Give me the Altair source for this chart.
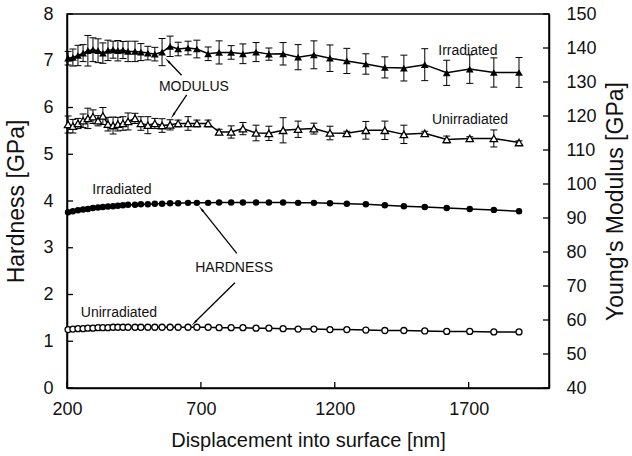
import math
import altair as alt
import pandas as pd

# ---------------- data ----------------
disp = [204, 222, 241, 260, 278, 297, 316, 334, 353, 372, 390, 409, 428, 454, 476,
        502, 528, 555, 585, 615, 652, 685, 727, 768, 813, 857, 906, 954, 1007, 1063,
        1122, 1182, 1245, 1316, 1387, 1458, 1536, 1618, 1704, 1794, 1888]

hard_irr = [3.76, 3.78, 3.80, 3.82, 3.83, 3.85, 3.86, 3.87, 3.88, 3.89, 3.90, 3.91,
            3.92, 3.92, 3.93, 3.93, 3.94, 3.94, 3.95, 3.95, 3.96, 3.96, 3.96, 3.97,
            3.97, 3.97, 3.97, 3.97, 3.97, 3.96, 3.96, 3.95, 3.94, 3.93, 3.91, 3.89,
            3.87, 3.85, 3.83, 3.81, 3.78]

hard_unirr = [1.25, 1.26, 1.27, 1.27, 1.28, 1.28, 1.29, 1.29, 1.29, 1.30, 1.30, 1.30,
              1.30, 1.30, 1.30, 1.30, 1.30, 1.30, 1.30, 1.30, 1.30, 1.30, 1.30, 1.29,
              1.29, 1.29, 1.28, 1.28, 1.27, 1.26, 1.26, 1.25, 1.25, 1.24, 1.23, 1.23,
              1.22, 1.21, 1.21, 1.20, 1.20]

mod_irr = [137.0, 137.2, 137.8, 138.5, 139.2, 139.5, 139.2, 138.5, 139.3, 139.5, 139.2,
           139.4, 139.0, 139.0, 138.8, 138.5, 138.2, 138.8, 140.5, 139.7, 140.0, 139.7,
           138.3, 138.7, 138.7, 138.3, 138.8, 138.2, 138.3, 137.3, 138.0, 137.0, 136.2,
           135.3, 134.3, 134.1, 135.1, 132.7, 133.8, 132.8, 132.8]
mod_irr_err = [2.0, 2.5, 3.0, 2.5, 4.5, 3.5, 3.5, 3.0, 3.0, 2.5, 3.0, 2.5, 3.0, 3.0,
               2.5, 2.0, 2.0, 4.0, 3.0, 2.0, 2.0, 2.6, 2.0, 3.4, 2.0, 2.9, 2.8, 1.8,
               3.3, 3.7, 4.1, 3.9, 3.7, 3.0, 3.1, 3.8, 4.7, 3.7, 4.2, 4.3, 4.4]

mod_unirr = [117.5, 117.0, 117.8, 118.6, 119.3, 119.8, 118.6, 120.0, 117.6, 117.2, 117.6,
             117.8, 118.4, 119.3, 117.8, 117.3, 117.8, 117.2, 117.4, 117.8, 117.8, 117.8,
             117.8, 115.3, 115.3, 116.3, 115.0, 114.9, 115.8, 116.1, 116.3, 115.0, 114.9,
             115.8, 115.8, 114.6, 114.9, 113.1, 113.4, 113.4, 112.2]
mod_unirr_err = [2.5, 2.0, 1.5, 2.0, 3.0, 2.0, 1.5, 2.5, 2.0, 2.5, 2.0, 2.0, 2.5, 1.5,
                 2.0, 2.5, 1.5, 2.0, 1.5, 1.0, 2.0, 1.0, 1.0, 0.8, 1.8, 1.8, 2.3, 2.1,
                 3.7, 2.4, 1.6, 2.0, 0.6, 2.6, 2.7, 2.7, 0.6, 1.0, 0.5, 2.5, 0.5]

x_ticks = [200, 700, 1200, 1700]
h_ticks = [0, 1, 2, 3, 4, 5, 6, 7, 8]
e_ticks = [40, 50, 60, 70, 80, 90, 100, 110, 120, 130, 140, 150]

# annotations (x in nm, y in hardness units)
ann_text = ["Irradiated", "Unirradiated", "MODULUS", "HARDNESS", "Irradiated", "Unirradiated"]
ann_x = [1697, 1705, 674, 824, 405, 394]
ann_y = [7.21, 5.73, 6.44, 2.57, 4.24, 1.60]

arrow_x1 = [628, 647, 834, 827]
arrow_y1 = [6.69, 6.27, 2.88, 2.25]
arrow_x2 = [578, 597, 703, 678]
arrow_y2 = [6.99, 5.84, 3.82, 1.41]

# ---------------- layout ----------------
W, H = 482, 374
X_DOM = [200, 2000]
H_DOM = [0, 8]
E_DOM = [40, 150]
FONT = "Liberation Sans"
INK = "#111111"

xscale = alt.Scale(domain=X_DOM, nice=False, zero=False)
hscale = alt.Scale(domain=H_DOM, nice=False, zero=False)
escale = alt.Scale(domain=E_DOM, nice=False, zero=False)

x_axis = alt.Axis(values=x_ticks, title="Displacement into surface [nm]", labelFlush=False,
                  labelPadding=12, titlePadding=12, format="d")
h_axis = alt.Axis(orient="left", values=h_ticks, title="Hardness [GPa]",
                  labelPadding=14, titlePadding=14, titleFontSize=23,
                  labelFlush=False, format="d")
e_axis = alt.Axis(orient="right", values=e_ticks, title="Young's Modulus [GPa]",
                  titleAngle=270, titleBaseline="top", labelPadding=17, titlePadding=8,
                  titleFontSize=23, labelFlush=False, format="d")

def X(field):
    return alt.X(f"{field}:Q", scale=xscale, axis=x_axis)

def YH(field):
    return alt.Y(f"{field}:Q", scale=hscale, axis=h_axis)

def YE(field):
    return alt.Y(f"{field}:Q", scale=escale, axis=e_axis)

df = pd.DataFrame({
    "disp": disp,
    "hi": hard_irr,
    "hu": hard_unirr,
    "mi": mod_irr,
    "mi_lo": [v - e for v, e in zip(mod_irr, mod_irr_err)],
    "mi_hi": [v + e for v, e in zip(mod_irr, mod_irr_err)],
    "mu": mod_unirr,
    "mu_lo": [v - e for v, e in zip(mod_unirr, mod_unirr_err)],
    "mu_hi": [v + e for v, e in zip(mod_unirr, mod_unirr_err)],
})

# arrow head angles from pixel direction
def px(xv):
    return (xv - X_DOM[0]) / (X_DOM[1] - X_DOM[0]) * W

def py(yv):
    return H - (yv - H_DOM[0]) / (H_DOM[1] - H_DOM[0]) * H

angles = []
for a, b, c, d in zip(arrow_x1, arrow_y1, arrow_x2, arrow_y2):
    dx = px(c) - px(a)
    dy = py(d) - py(b)
    angles.append(math.degrees(math.atan2(dx, -dy)) % 360)

arr_df = pd.DataFrame({"x1": arrow_x1, "y1": arrow_y1, "x2": arrow_x2, "y2": arrow_y2, "ang": angles})
ann_df = pd.DataFrame({"t": ann_text, "x": ann_x, "y": ann_y})

base = alt.Chart(df)

# ---------------- hardness group (left axis) ----------------
h_line1 = base.mark_line(color="black", strokeWidth=1.5).encode(x=X("disp"), y=YH("hi"))
h_line2 = base.mark_line(color="black", strokeWidth=1.5).encode(x=X("disp"), y=YH("hu"))
h_pts1 = base.mark_point(shape="circle", filled=True, color="black", size=42, opacity=1).encode(
    x=X("disp"), y=YH("hi"))
h_pts2 = base.mark_point(shape="circle", filled=True, fill="white", stroke="black",
                         strokeWidth=1.3, size=36, opacity=1).encode(x=X("disp"), y=YH("hu"))

xtick_df = pd.DataFrame({"v": x_ticks})
x_inticks = alt.Chart(xtick_df).mark_rule(color="black", strokeWidth=1.3).encode(
    x=X("v"), y=alt.value(H), y2=alt.value(H - 6))
htick_df = pd.DataFrame({"hv": h_ticks})
h_inticks = alt.Chart(htick_df).mark_rule(color="black", strokeWidth=1.3).encode(
    y=YH("hv"), x=alt.value(0), x2=alt.value(6))

texts = alt.Chart(ann_df).mark_text(font=FONT, fontSize=14, color=INK).encode(
    x=X("x"), y=YH("y"), text="t:N")
arrows = alt.Chart(arr_df).mark_rule(color="black", strokeWidth=1.3).encode(
    x=X("x1"), x2="x2:Q", y=YH("y1"), y2="y2:Q")
heads = alt.Chart(arr_df).mark_point(shape="wedge", filled=True, color="black",
                                     size=70, opacity=1).encode(
    x=X("x2"), y=YH("y2"), angle=alt.Angle("ang:Q", scale=None))

hard_group = alt.layer(h_line1, h_line2, h_pts1, h_pts2, x_inticks, h_inticks,
                       arrows, heads, texts)

# ---------------- modulus group (right axis) ----------------
m_line1 = base.mark_line(color="black", strokeWidth=1.5).encode(x=X("disp"), y=YE("mi"))
m_line2 = base.mark_line(color="black", strokeWidth=1.5).encode(x=X("disp"), y=YE("mu"))

def errbars(lo, hi):
    bar = base.mark_rule(color="black", strokeWidth=1).encode(
        x=X("disp"), y=YE(lo), y2=f"{hi}:Q")
    cap_lo = base.mark_tick(orient="horizontal", color="black", size=7, thickness=1,
                            opacity=1).encode(x=X("disp"), y=YE(lo))
    cap_hi = base.mark_tick(orient="horizontal", color="black", size=7, thickness=1,
                            opacity=1).encode(x=X("disp"), y=YE(hi))
    return [bar, cap_lo, cap_hi]

m_pts1 = base.mark_point(shape="triangle-up", filled=True, color="black", size=60,
                         opacity=1).encode(x=X("disp"), y=YE("mi"))
m_pts2 = base.mark_point(shape="triangle-up", filled=True, fill="white", stroke="black",
                         strokeWidth=1.3, size=55, opacity=1).encode(x=X("disp"), y=YE("mu"))

etick_df = pd.DataFrame({"ev": e_ticks})
e_inticks = alt.Chart(etick_df).mark_rule(color="black", strokeWidth=1.3).encode(
    y=YE("ev"), x=alt.value(W - 6), x2=alt.value(W))

mod_group = alt.layer(m_line1, m_line2, *errbars("mi_lo", "mi_hi"),
                      *errbars("mu_lo", "mu_hi"), m_pts1, m_pts2, e_inticks)

chart = alt.layer(hard_group, mod_group).resolve_scale(y="independent").properties(
    width=W, height=H,
    autosize=alt.AutoSizeParams(type="none"),
    padding={"left": 67, "top": 14, "right": 632 - 67 - W, "bottom": 456 - 14 - H},
    background="white",
).configure_view(stroke="black", strokeWidth=1.5).configure_axis(
    domainColor="black", domainWidth=1.5, ticks=False, grid=False,
    labelFont=FONT, labelFontSize=18, labelColor=INK,
    titleFont=FONT, titleFontSize=20, titleFontWeight="normal", titleColor=INK,
)

chart.save("out.html", embed_options={"renderer": "svg", "actions": False})
